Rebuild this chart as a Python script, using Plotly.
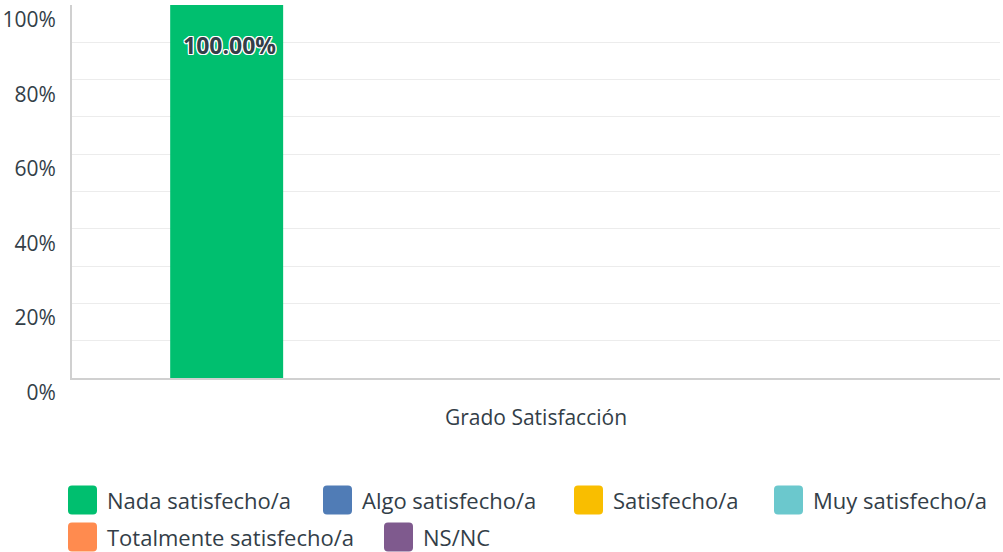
import plotly.graph_objects as go

categories = ["Grado Satisfacción"]
series_names = ["Nada satisfecho/a", "Algo satisfecho/a", "Satisfecho/a",
                "Muy satisfecho/a", "Totalmente satisfecho/a", "NS/NC"]
series_values = [[1.0], [0.0], [0.0], [0.0], [0.0], [0.0]]
series_colors = ["#00bf6f", "#507cb6", "#f9be00", "#6bc8cd", "#ff8b4f", "#7f5a8e"]
y_tick_values = [0, 0.2, 0.4, 0.6, 0.8, 1.0]
y_tick_labels = ["0%", "20%", "40%", "60%", "80%", "100%"]

FONT = "Open Sans"
TXT = "#333e48"
W, H = 1003, 552
ML, MR, MT, MB = 72, 3, 5, 174
BARGAP, GROUPGAP = 0.2, 0.087

fig = go.Figure()
for name, vals, col in zip(series_names, series_values, series_colors):
    fig.add_trace(go.Bar(x=categories, y=vals, name=name, marker_color=col,
                         marker_line_width=0, showlegend=False, hoverinfo="skip"))

# data labels
plot_w = W - ML - MR
n = len(series_names)
slot = plot_w / len(categories) * (1 - BARGAP) / n
for i, (vals) in enumerate(series_values):
    for c, v in zip(categories, vals):
        if v > 0:
            fig.add_annotation(x=c, y=v, xref="x", yref="y", text=f"<b>{v*100:.2f}%</b>",
                               showarrow=False, yanchor="top", yshift=-22,
                               xshift=(i - (n - 1) / 2) * slot + 3,
                               font=dict(family=FONT, size=23, color=TXT,
                                         shadow="1px 1px 0 #fff, -1px -1px 0 #fff, 1px -1px 0 #fff, -1px 1px 0 #fff, 0 1px 0 #fff, 0 -1px 0 #fff, 1px 0 0 #fff, -1px 0 0 #fff"))

# manual legend (pixel layout)
legend_pos = [(68, 500), (323, 500), (574, 500), (774, 500), (68, 537), (384, 537)]
plot_h = H - MT - MB
def px2paper(x, y):
    return (x - ML) / plot_w, (H - MB - y) / plot_h
r = 4
s = 14.5
path = (f"M {-s+r},{-s} L {s-r},{-s} Q {s},{-s} {s},{-s+r} L {s},{s-r} Q {s},{s} {s-r},{s} "
        f"L {-s+r},{s} Q {-s},{s} {-s},{s-r} L {-s},{-s+r} Q {-s},{-s} {-s+r},{-s} Z")
for name, col, (lx, ly) in zip(series_names, series_colors, legend_pos):
    ax, ay = px2paper(lx + s, ly)
    fig.add_shape(type="path", xref="paper", yref="paper", xsizemode="pixel", ysizemode="pixel",
                  xanchor=ax, yanchor=ay, path=path, fillcolor=col, line_width=0)
    tx, ty = px2paper(lx + 39, ly)
    fig.add_annotation(x=tx, y=ty, xref="paper", yref="paper", text=name, showarrow=False,
                       xanchor="left", yanchor="middle", xshift=-2,
                       font=dict(family=FONT, size=22, color=TXT))

fig.update_layout(
    width=W, height=H, barmode="group", bargap=BARGAP, bargroupgap=GROUPGAP,
    margin=dict(l=ML, r=MR, t=MT, b=MB, autoexpand=False),
    plot_bgcolor="white", paper_bgcolor="white",
    font=dict(family=FONT, color=TXT),
)
fig.update_yaxes(range=[0, 1], tickvals=y_tick_values, ticktext=y_tick_labels,
                 showgrid=True, gridcolor="#ececec", gridwidth=1,
                 minor=dict(dtick=0.1, showgrid=True, gridcolor="#ececec", gridwidth=1),
                 showline=True, linecolor="#d0d0d0", linewidth=2,
                 ticklabelposition="outside bottom", ticklabelstandoff=10,
                 tickfont=dict(family=FONT, size=21, color=TXT), zeroline=False)
fig.update_xaxes(showline=True, linecolor="#d0d0d0", linewidth=2,
                 tickfont=dict(family=FONT, size=21, color=TXT), ticklabelstandoff=20,
                 ticks="")

fig.write_html("out.html", config={"displayModeBar": False},
               post_script="document.body.style.margin='0';document.body.style.padding='0';")
